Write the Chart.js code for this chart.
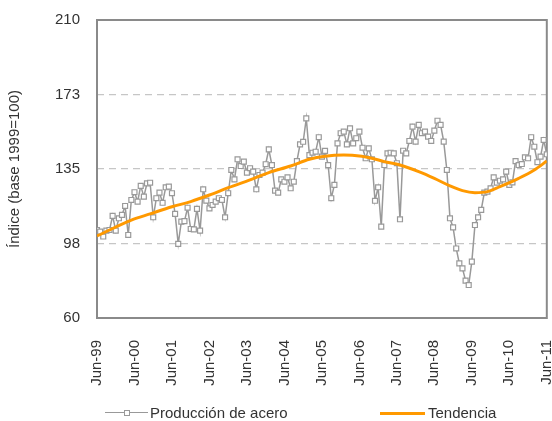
<!DOCTYPE html>
<html><head><meta charset="utf-8">
<script src="https://cdn.jsdelivr.net/npm/chart.js@4/dist/chart.umd.min.js"></script>
<style>
body{margin:0;background:#fff}
#wrap{position:relative;width:552px;height:421px}
canvas{position:absolute;left:0;top:0}
.lg{position:absolute;font:15px "Liberation Sans",Arial,sans-serif;color:#333;line-height:18px;white-space:nowrap}
</style></head><body>
<div id="wrap"><canvas id="c" width="552" height="421"></canvas>
<div style="position:absolute;left:105px;top:412px;width:43px;border-top:1.5px solid #999"></div>
<div style="position:absolute;left:124px;top:410px;width:4px;height:4px;border:1px solid #999;background:#fff"></div>
<div class="lg" style="left:150px;top:404px">Producción de acero</div>
<div style="position:absolute;left:380px;top:412px;width:45px;height:3px;background:#ff9900"></div>
<div class="lg" style="left:428px;top:404px">Tendencia</div>
</div>
<script>
const tickLabels = ['Jun-99','Jun-00','Jun-01','Jun-02','Jun-03','Jun-04','Jun-05','Jun-06','Jun-07','Jun-08','Jun-09','Jun-10','Jun-11'];
const yTicks = [60, 97.5, 135, 172.5, 210];
const steel = [
 104.3,103.5,101,104,104.3,111.4,104,110.2,111.9,116.4,101.8,119.4,
 123.3,118.6,126.5,121.1,127.8,128.1,110.7,120.3,123.1,118,125.8,126.1,
 122.8,112.4,97.3,108.5,108.8,115.5,104.8,104.6,114.9,104,124.8,119.1,
 115.2,116.9,118.6,120.3,119.4,110.7,122.8,134.5,129.8,139.9,136.5,138.7,
 133.2,135.4,133.7,124.8,132,133.2,137.4,144.9,137,124.1,123.1,129.8,
 128.6,130.8,125.3,128.6,139,147.4,148.7,160.5,142,143.2,143.7,151,
 141.2,144.1,137,120.3,127,147.9,153,153.8,147.4,155.5,147.9,150.5,
 153.8,145.7,140.4,145.4,139.9,119,125.8,106,137,142.9,143.2,142.9,
 137.9,109.7,144.2,142.9,149.1,156.3,148.8,157.2,153,153.8,151.3,149.1,
 154.3,159.3,157.2,148.8,134.5,110.2,105.6,95,87.5,85,78.8,76.6,
 88.4,106.8,110.7,114.4,123.1,123.6,125.3,130.8,128.1,129.1,129.8,133.7,
 127,128.3,139,137,137.5,140.9,140.4,151,146.2,138.4,141.2,149.6,
 142.4
];
const trendMonth = [0,11,17,24,30,36,42,49,55,62,68,73,79,84,88,92,97,103,108,113,117,121,125,129,135,140,144];
const trendValue = [101.3,109.3,112.4,116,118.6,121.9,125.6,129.5,133.2,136.5,139.9,141.4,142,141.6,140.4,138.7,137,133.7,130.3,126.5,124.1,123.1,123.6,126.1,130.3,134.5,139];

const FONT = '"Liberation Sans", Arial, sans-serif';
const frame = {id:'frame', beforeDatasetsDraw(chart){
  const {ctx, chartArea:a} = chart;
  ctx.save(); ctx.strokeStyle='#8a8a8a'; ctx.lineWidth=2;
  ctx.strokeRect(a.left, a.top, a.right-a.left, a.bottom-a.top); ctx.restore();
}};

new Chart(document.getElementById('c'), {
  type:'line',
  data:{datasets:[
    {label:'Tendencia', data: trendMonth.map((m,i)=>({x:m,y:trendValue[i]})), borderColor:'#ff9900', borderWidth:3, pointRadius:0, cubicInterpolationMode:'monotone', order:0},
    {label:'Producción de acero', data: steel.map((v,i)=>({x:i,y:v})), borderColor:'#999999', borderWidth:1.5, pointStyle:'rect', pointRadius:3.5, pointBorderColor:'#999999', pointBackgroundColor:'#ffffff', pointBorderWidth:1.2, tension:0, order:1}
  ]},
  options:{responsive:false, animation:false, events:[],
    layout:{padding:{top:20,right:3,left:0,bottom:0}},
    plugins:{legend:{display:false}, tooltip:{enabled:false}},
    scales:{
      x:{type:'linear', min:0, max:144,
        afterBuildTicks(s){ s.ticks = tickLabels.map((t,i)=>({value:i*12})); },
        ticks:{callback:(v)=>tickLabels[Math.round(v/12)], autoSkip:false, maxRotation:90, minRotation:90, padding:14, color:'#333', font:{family:FONT,size:15}},
        grid:{display:false}, border:{display:false},
        afterFit(s){ s.height=103; s.paddingLeft=0; s.paddingRight=0; }},
      y:{min:60, max:210,
        afterBuildTicks(s){ s.ticks = yTicks.map(v=>({value:v})); },
        ticks:{callback:v=>Math.round(v), padding:17, color:'#333', font:{family:FONT,size:15}},
        grid:{color:c=>(c.tick && (c.tick.value===60||c.tick.value===210)) ? 'rgba(0,0,0,0)' : '#c6c6c6', lineWidth:1.3, drawTicks:false},
        border:{display:false, dash:[7,5]},
        title:{display:true, text:'Índice (base 1999=100)', color:'#333', font:{family:FONT,size:15}, padding:{top:6,bottom:0}},
        afterFit(s){ s.width=97; s.paddingTop=0; s.paddingBottom=0; }}
    }
  },
  plugins:[frame]
});
</script>
</body></html>
